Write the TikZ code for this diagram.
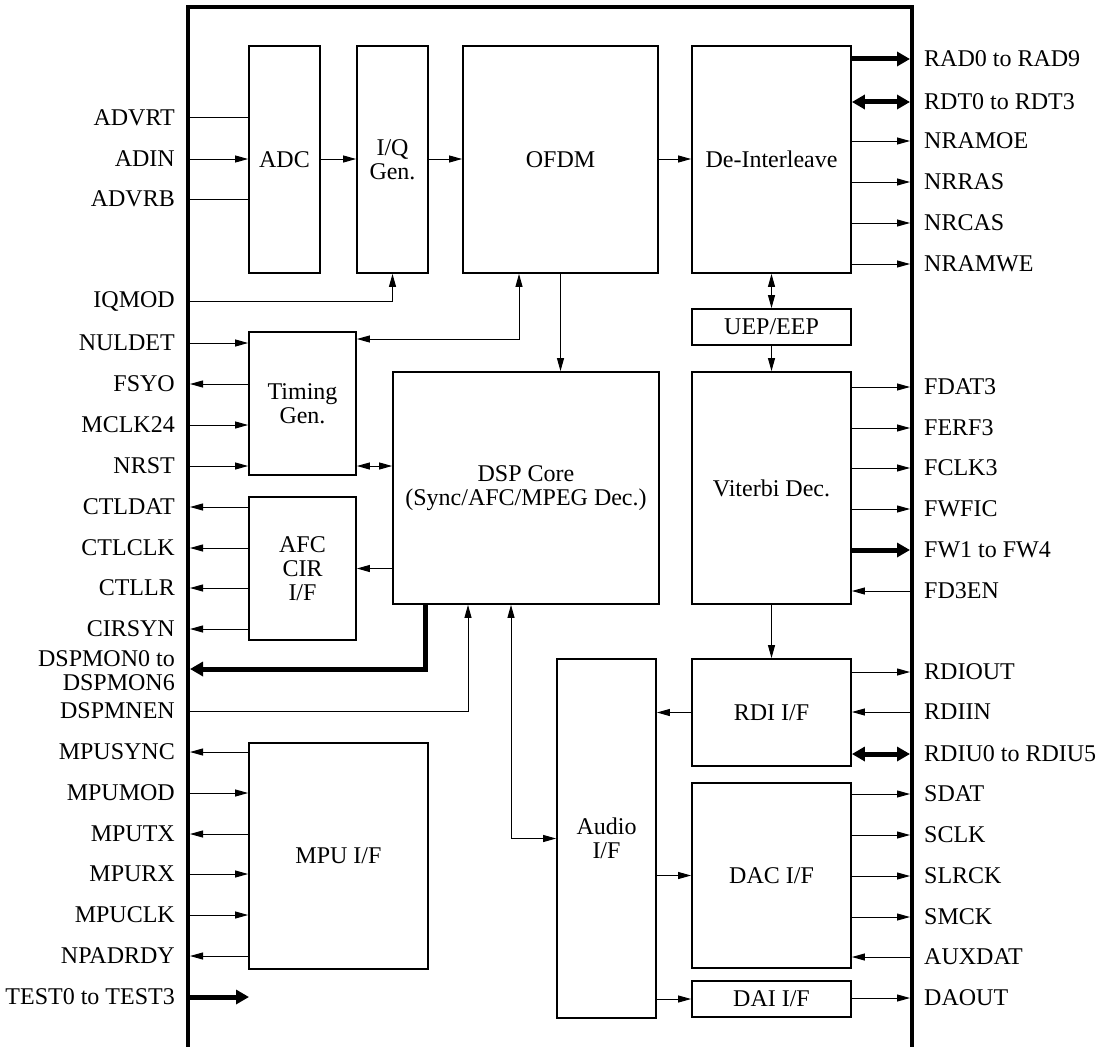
\documentclass[tikz,border=0pt]{standalone}
\usepackage{fontspec}
\setmainfont{Liberation Serif}
\usetikzlibrary{arrows.meta}
\newcommand\dfont{\fontsize{24}{24}\selectfont}
\begin{document}
\begin{tikzpicture}[x=1pt,y=-1pt,
  blk/.style={draw, line width=1.8pt, inner sep=0pt, align=center, font=\dfont},
  lbl/.style={inner sep=0pt, font=\dfont},
  wire/.style={line width=1pt},
  sig/.style={line width=1pt, -{Triangle[length=13pt,width=7pt]}},
  sigb/.style={line width=1pt, {Triangle[length=13pt,width=7pt]}-{Triangle[length=13pt,width=7pt]}},
  bus/.style={line width=5pt, -{Triangle[length=13pt,width=14pt]}},
  busb/.style={line width=5pt, {Triangle[length=13pt,width=14pt]}-{Triangle[length=13pt,width=14pt]}},
  frame/.style={line width=3.5pt, line join=miter}]
\useasboundingbox (0,0) rectangle (1107,1046);
\fill[white] (0,0) rectangle (1107,1046);
% outer frame
\draw[frame] (188,1060) -- (188,7) -- (912,7) -- (912,1060);
% blocks
\node[blk, minimum width=71pt, minimum height=227pt] (adc) at (284.5,159.5) {ADC};
\node[blk, minimum width=71pt, minimum height=227pt] (iq) at (392.5,159.5) {I/Q\\Gen.};
\node[blk, minimum width=195pt, minimum height=227pt] (ofdm) at (560.5,159.5) {OFDM};
\node[blk, minimum width=159pt, minimum height=227pt] (deint) at (771.5,159.5) {De-Interleave};
\node[blk, minimum width=107pt, minimum height=143pt] (timing) at (302.5,403.5) {Timing\\Gen.};
\node[blk, minimum width=107pt, minimum height=143pt] (afc) at (302.5,568.5) {AFC\\CIR\\I/F};
\node[blk, minimum width=266pt, minimum height=232pt] (dsp) at (526,488) {DSP Core\\(Sync/AFC/MPEG Dec.)};
\node[blk, minimum width=159pt, minimum height=36pt] (uep) at (771.5,327) {UEP/EEP};
\node[blk, minimum width=159pt, minimum height=232pt] (vit) at (771.5,488) {Viterbi Dec.};
\node[blk, minimum width=179pt, minimum height=226pt] (mpu) at (338.5,856) {MPU I/F};
\node[blk, minimum width=99pt, minimum height=359pt] (audio) at (606.5,838.5) {Audio\\I/F};
\node[blk, minimum width=159pt, minimum height=107pt] (rdi) at (771.5,712.5) {RDI I/F};
\node[blk, minimum width=159pt, minimum height=185pt] (dac) at (771.5,875.5) {DAC I/F};
\node[blk, minimum width=159pt, minimum height=36pt] (dai) at (771.5,999) {DAI I/F};
% left labels
\foreach \n/\y/\t in {advrt/118/ADVRT, adin/159/ADIN, advrb/199/ADVRB, iqmod/301/IQMOD,
  nuldet/343/NULDET, fsyo/384/FSYO, mclk/425/MCLK24, nrst/466/NRST,
  ctldat/507/CTLDAT, ctlclk/548/CTLCLK, ctllr/588/CTLLR, cirsyn/629/CIRSYN,
  dspmnen/711/DSPMNEN, mpusync/752/MPUSYNC, mpumod/793/MPUMOD, mputx/834/MPUTX,
  mpurx/874/MPURX, mpuclk/915/MPUCLK, npadrdy/956/NPADRDY, test/997/TEST0 to TEST3} {
  \node[lbl, anchor=east] (L\n) at (175,\y) {\t};
  \coordinate (B\n) at (190,\y);
}
\node[lbl, anchor=east, align=right] (Ldspmon) at (175,671) {DSPMON0 to\\DSPMON6};
\coordinate (Bdspmon) at (190,669);
\coordinate (Ttest) at (249,997);
% right labels
\foreach \n/\y/\t in {rad/59/RAD0 to RAD9, rdt/102/RDT0 to RDT3, nramoe/141/NRAMOE,
  nrras/182/NRRAS, nrcas/223/NRCAS, nramwe/264/NRAMWE,
  fdat/387/FDAT3, ferf/428/FERF3, fclk/468/FCLK3, fwfic/509/FWFIC, fw/550/FW1 to FW4,
  fden/591/FD3EN, rdiout/672/RDIOUT, rdiin/712/RDIIN, rdiu/754/RDIU0 to RDIU5,
  sdat/794/SDAT, sclk/835/SCLK, slrck/876/SLRCK, smck/917/SMCK, auxdat/957/AUXDAT,
  daout/998/DAOUT} {
  \node[lbl, anchor=west] (R\n L) at (924,\y) {\t};
  \coordinate (R\n) at (910,\y);
}
% left connectors
\draw[wire] (Badvrt) -- (adc.west |- Badvrt);
\draw[sig] (Badin) -- (adc.west |- Badin);
\draw[wire] (Badvrb) -- (adc.west |- Badvrb);
\draw[sig] (Biqmod) -| (iq.south);
\draw[sig] (Bnuldet) -- (timing.west |- Bnuldet);
\draw[sig] (timing.west |- Bfsyo) -- (Bfsyo);
\draw[sig] (Bmclk) -- (timing.west |- Bmclk);
\draw[sig] (Bnrst) -- (timing.west |- Bnrst);
\foreach \n in {ctldat,ctlclk,ctllr,cirsyn} \draw[sig] (afc.west |- B\n) -- (B\n);
\draw[bus, line join=miter] ([xshift=-101pt]dsp.south) |- (Bdspmon);
\draw[sig] (Bdspmnen) -| ([xshift=-58pt]dsp.south);
\foreach \n in {mpusync,mputx,npadrdy} \draw[sig] (mpu.west |- B\n) -- (B\n);
\foreach \n in {mpumod,mpurx,mpuclk} \draw[sig] (B\n) -- (mpu.west |- B\n);
\draw[bus] (Btest) -- (Ttest);
% right connectors
\draw[bus] (deint.east |- Rrad) -- (Rrad);
\draw[busb] (deint.east |- Rrdt) -- (Rrdt);
\foreach \n in {nramoe,nrras,nrcas,nramwe} \draw[sig] (deint.east |- R\n) -- (R\n);
\foreach \n in {fdat,ferf,fclk,fwfic} \draw[sig] (vit.east |- R\n) -- (R\n);
\draw[bus] (vit.east |- Rfw) -- (Rfw);
\draw[sig] (Rfden) -- (vit.east |- Rfden);
\draw[sig] (rdi.east |- Rrdiout) -- (Rrdiout);
\draw[sig] (Rrdiin) -- (rdi.east |- Rrdiin);
\draw[busb] (rdi.east |- Rrdiu) -- (Rrdiu);
\foreach \n in {sdat,sclk,slrck,smck} \draw[sig] (dac.east |- R\n) -- (R\n);
\draw[sig] (Rauxdat) -- (dac.east |- Rauxdat);
\draw[sig] (dai.east |- Rdaout) -- (Rdaout);
% internal connectors
\draw[sig] (adc.east |- Badin) -- (iq.west |- Badin);
\draw[sig] (iq.east |- Badin) -- (ofdm.west |- Badin);
\draw[sig] (ofdm.east |- Badin) -- (deint.west |- Badin);
\draw[sigb] ([xshift=-41.5pt]ofdm.south) |- ([yshift=64.5pt]timing.east);
\draw[sigb] (timing.east |- Bnrst) -- (dsp.west |- Bnrst);
\draw[sig] (dsp.west |- afc.east) -- (afc.east);
\draw[sig] (ofdm.south) -- (ofdm.south |- dsp.north);
\draw[sigb] ([xshift=-15pt]dsp.south) |- (audio.west);
\draw[sig] (rdi.west) -- (audio.east |- rdi.west);
\draw[sig] (audio.east |- dac.west) -- (dac.west);
\draw[sig] (audio.east |- dai.west) -- (dai.west);
\draw[sigb] (deint.south) -- (uep.north);
\draw[sig] (uep.south) -- (vit.north);
\draw[sig] (vit.south) -- (rdi.north);
\end{tikzpicture}
\end{document}
